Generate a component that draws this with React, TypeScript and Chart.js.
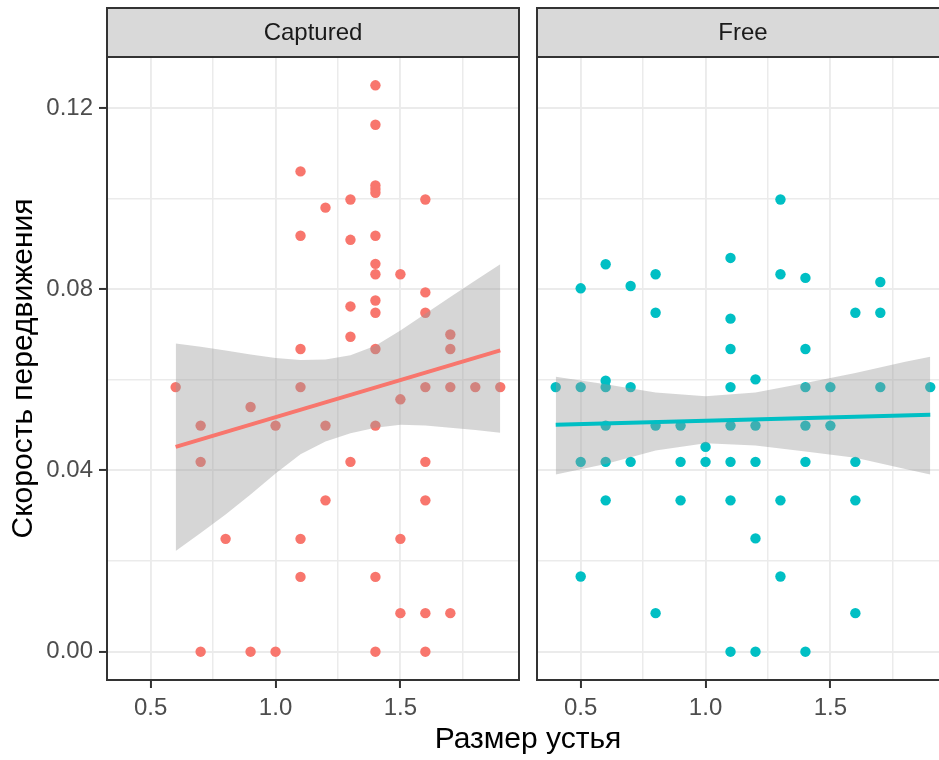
import React, { useEffect, useRef } from 'react';
import { Chart, registerables } from 'chart.js';

Chart.register(...registerables);

// ---------- data ----------
const panelNames = ['Captured', 'Free'];

const capturedX = [
  0.6, 0.7, 0.7, 0.7, 0.8, 0.9, 0.9, 1.0, 1.0,
  1.1, 1.1, 1.1, 1.1, 1.1, 1.1,
  1.2, 1.2, 1.2,
  1.3, 1.3, 1.3, 1.3, 1.3,
  1.4, 1.4, 1.4, 1.4, 1.4, 1.4, 1.4, 1.4, 1.4, 1.4, 1.4, 1.4, 1.4, 1.4,
  1.5, 1.5, 1.5, 1.5,
  1.6, 1.6, 1.6, 1.6, 1.6, 1.6, 1.6, 1.6,
  1.7, 1.7, 1.7, 1.7,
  1.8, 1.9,
];
const capturedY = [
  0.0584, 0.0499, 0.0419, 0, 0.0249, 0.054, 0, 0.0499, 0,
  0.106, 0.0918, 0.0668, 0.0584, 0.0249, 0.0165,
  0.098, 0.0499, 0.0334,
  0.0998, 0.0909, 0.0762, 0.0695, 0.0419,
  0.125, 0.1163, 0.1029, 0.1021, 0.1013, 0.0918, 0.0856, 0.0833, 0.0775, 0.0748, 0.0668, 0.0499, 0.0165, 0,
  0.0833, 0.0557, 0.0249, 0.0085,
  0.0998, 0.0793, 0.0748, 0.0584, 0.0419, 0.0334, 0.0085, 0,
  0.07, 0.0668, 0.0584, 0.0085,
  0.0584, 0.0584,
];

const freeX = [
  0.4,
  0.5, 0.5, 0.5, 0.5,
  0.6, 0.6, 0.6, 0.6, 0.6, 0.6,
  0.7, 0.7, 0.7,
  0.8, 0.8, 0.8, 0.8,
  0.9, 0.9, 0.9,
  1.0, 1.0,
  1.1, 1.1, 1.1, 1.1, 1.1, 1.1, 1.1, 1.1,
  1.2, 1.2, 1.2, 1.2, 1.2,
  1.3, 1.3, 1.3, 1.3,
  1.4, 1.4, 1.4, 1.4, 1.4, 1.4,
  1.5, 1.5,
  1.6, 1.6, 1.6, 1.6,
  1.7, 1.7, 1.7,
  1.9,
];
const freeY = [
  0.0584,
  0.0802, 0.0584, 0.0419, 0.0166,
  0.0855, 0.0598, 0.0584, 0.0499, 0.0419, 0.0334,
  0.0807, 0.0584, 0.0419,
  0.0833, 0.0748, 0.0499, 0.0085,
  0.0499, 0.0419, 0.0334,
  0.0452, 0.0419,
  0.0869, 0.0735, 0.0668, 0.0584, 0.0499, 0.0419, 0.0334, 0,
  0.0601, 0.0499, 0.0419, 0.025, 0,
  0.0998, 0.0833, 0.0334, 0.0166,
  0.0825, 0.0668, 0.0584, 0.0499, 0.0419, 0,
  0.0584, 0.0499,
  0.0748, 0.0419, 0.0334, 0.0085,
  0.0816, 0.0748, 0.0584,
  0.0584,
];

// smoother (lm) fit and confidence band
const capturedFitX = [0.6, 1.9];
const capturedFitY = [0.0452, 0.0665];
const capturedBandX = [0.6, 0.7, 0.8, 0.9, 1.0, 1.1, 1.2, 1.3, 1.4, 1.5, 1.6, 1.7, 1.8, 1.9];
const capturedUpper = [0.068, 0.0673, 0.0665, 0.0656, 0.0648, 0.0644, 0.0645, 0.0654, 0.0675, 0.0709, 0.0746, 0.0783, 0.0819, 0.0855];
const capturedLower = [0.0222, 0.0262, 0.0303, 0.0347, 0.0393, 0.0436, 0.0464, 0.0482, 0.0494, 0.0501, 0.0499, 0.0494, 0.0489, 0.0483];

const freeFitX = [0.4, 1.9];
const freeFitY = [0.0501, 0.0523];
const freeBandX = [0.4, 0.6, 0.8, 1.0, 1.2, 1.4, 1.6, 1.8, 1.9];
const freeUpper = [0.0607, 0.059, 0.0572, 0.0564, 0.0572, 0.0593, 0.0615, 0.064, 0.0651];
const freeLower = [0.0391, 0.0414, 0.0444, 0.046, 0.0455, 0.0442, 0.0428, 0.0403, 0.0391];

// axes
const xGridTicks = [0.5, 0.75, 1.0, 1.25, 1.5, 1.75];
const xLabelTicks = [0.5, 1.0, 1.5];
const xTickLabels = ['0.5', '1.0', '1.5'];
const yGridTicks = [0, 0.02, 0.04, 0.06, 0.08, 0.1, 0.12];
const yLabelTicks = [0, 0.04, 0.08, 0.12];
const yTickLabels = ['0.00', '0.04', '0.08', '0.12'];
const xRange = [0.325, 1.975];
const yRange = [-0.00625, 0.13125];

const xTitle = 'Размер устья';
const yTitle = 'Скорость передвижения';

const RED = '#F8766D';
const CYAN = '#00BFC4';
const FONT = '"Liberation Sans", Arial, sans-serif';

// ---------- helpers ----------
const idxOf = (list: number[], v: number) => list.findIndex((t) => Math.abs(t - v) < 1e-9);
const pts = (xs: number[], ys: number[]) => xs.map((x, i) => ({ x, y: ys[i] }));

const panelPlugin = {
  id: 'panelDecor',
  afterDraw(chart: any, _args: any, opts: any) {
    const { ctx, chartArea } = chart;
    const { left, right, top, bottom } = chartArea;
    const stripTop = 8;
    ctx.save();
    // strip
    ctx.fillStyle = '#D9D9D9';
    ctx.fillRect(left, stripTop, right - left, top - stripTop);
    ctx.strokeStyle = '#333333';
    ctx.lineWidth = 2;
    ctx.strokeRect(left, stripTop, right - left, top - stripTop);
    ctx.fillStyle = '#1A1A1A';
    ctx.font = `24px ${FONT}`;
    ctx.textAlign = 'center';
    ctx.textBaseline = 'middle';
    ctx.fillText(opts.label, (left + right) / 2, (stripTop + top) / 2 + 1);
    // panel border
    ctx.strokeRect(left, top, right - left, bottom - top);
    ctx.restore();
  },
};

function makeConfig(which: number): any {
  const isFirst = which === 0;
  const color = isFirst ? RED : CYAN;
  const px = isFirst ? capturedX : freeX;
  const py = isFirst ? capturedY : freeY;
  const bx = isFirst ? capturedBandX : freeBandX;
  const bu = isFirst ? capturedUpper : freeUpper;
  const bl = isFirst ? capturedLower : freeLower;
  const fx = isFirst ? capturedFitX : freeFitX;
  const fy = isFirst ? capturedFitY : freeFitY;

  const gridColor = '#EBEBEB';

  return {
    type: 'scatter',
    data: {
      datasets: [
        {
          label: 'points',
          data: pts(px, py),
          showLine: false,
          pointRadius: 5.2,
          pointHoverRadius: 5.2,
          pointBackgroundColor: color,
          pointBorderWidth: 0,
          pointBorderColor: color,
          order: 3,
        },
        {
          label: 'upper',
          type: 'line',
          data: pts(bx, bu),
          borderWidth: 0,
          borderColor: 'rgba(0,0,0,0)',
          pointRadius: 0,
          backgroundColor: 'rgba(153,153,153,0.4)',
          fill: '+1',
          tension: 0,
          order: 2,
        },
        {
          label: 'lower',
          type: 'line',
          data: pts(bx, bl),
          borderWidth: 0,
          borderColor: 'rgba(0,0,0,0)',
          pointRadius: 0,
          fill: false,
          tension: 0,
          order: 2,
        },
        {
          label: 'fit',
          type: 'line',
          data: pts(fx, fy),
          borderColor: color,
          borderWidth: 4,
          pointRadius: 0,
          fill: false,
          tension: 0,
          order: 1,
        },
      ],
    },
    options: {
      responsive: false,
      animation: false,
      devicePixelRatio: 1,
      events: [],
      layout: {
        padding: { left: isFirst ? 0 : 7, right: 11, top: 57, bottom: 0 },
      },
      plugins: {
        legend: { display: false },
        tooltip: { enabled: false },
        title: { display: false },
        panelDecor: { label: panelNames[which] },
      },
      scales: {
        x: {
          type: 'linear',
          position: 'bottom',
          min: xRange[0],
          max: xRange[1],
          afterBuildTicks: (s: any) => {
            s.ticks = xGridTicks.map((v) => ({ value: v }));
          },
          afterFit: (s: any) => {
            s.height = 80;
          },
          border: { display: false },
          grid: {
            color: gridColor,
            lineWidth: (c: any) => (c.tick && idxOf(xLabelTicks, c.tick.value) >= 0 ? 1.9 : 1.5),
            tickColor: (c: any) => (c.tick && idxOf(xLabelTicks, c.tick.value) >= 0 ? '#333333' : 'rgba(0,0,0,0)'),
            tickWidth: 2,
            tickLength: 8,
            drawTicks: true,
          },
          ticks: {
            autoSkip: false,
            maxRotation: 0,
            padding: 6,
            color: '#4D4D4D',
            font: { family: FONT, size: 24 },
            callback: (v: any) => {
              const i = idxOf(xLabelTicks, Number(v));
              return i >= 0 ? xTickLabels[i] : '';
            },
          },
        },
        y: {
          type: 'linear',
          position: 'left',
          min: yRange[0],
          max: yRange[1],
          afterBuildTicks: (s: any) => {
            s.ticks = yGridTicks.map((v) => ({ value: v }));
          },
          afterFit: (s: any) => {
            s.width = isFirst ? 107 : 0;
          },
          border: { display: false },
          grid: {
            color: gridColor,
            lineWidth: (c: any) => (c.tick && idxOf(yLabelTicks, c.tick.value) >= 0 ? 1.9 : 1.5),
            tickColor: (c: any) => (c.tick && idxOf(yLabelTicks, c.tick.value) >= 0 ? '#333333' : 'rgba(0,0,0,0)'),
            tickWidth: 2,
            tickLength: 8,
            drawTicks: isFirst,
          },
          ticks: {
            display: isFirst,
            autoSkip: false,
            padding: 6,
            color: '#4D4D4D',
            font: { family: FONT, size: 24 },
            callback: (v: any) => {
              const i = idxOf(yLabelTicks, Number(v));
              return i >= 0 ? yTickLabels[i] : '';
            },
          },
          title: {
            display: isFirst,
            text: yTitle,
            color: '#000000',
            font: { family: FONT, size: 30 },
            padding: { top: 6, bottom: 0 },
          },
        },
      },
    },
    plugins: [panelPlugin],
  };
}

export default function App() {
  const c1 = useRef<HTMLCanvasElement>(null);
  const c2 = useRef<HTMLCanvasElement>(null);

  useEffect(() => {
    const charts: Chart[] = [];
    if (c1.current) charts.push(new Chart(c1.current, makeConfig(0)));
    if (c2.current) charts.push(new Chart(c2.current, makeConfig(1)));
    return () => {
      charts.forEach((c) => c.destroy());
    };
  }, []);

  return (
    <div
      style={{
        position: 'fixed',
        left: 0,
        top: 0,
        width: 939,
        height: 760,
        overflow: 'hidden',
        background: '#ffffff',
      }}
    >
      <canvas ref={c1} width={530} height={760} style={{ position: 'absolute', left: 0, top: 0 }} />
      <canvas ref={c2} width={430} height={760} style={{ position: 'absolute', left: 530, top: 0 }} />
      <div
        style={{
          position: 'absolute',
          left: 0,
          top: 723,
          width: 1056,
          textAlign: 'center',
          fontFamily: FONT,
          fontSize: 30,
          lineHeight: '30px',
          color: '#000000',
          whiteSpace: 'nowrap',
        }}
      >
        {xTitle}
      </div>
    </div>
  );
}
